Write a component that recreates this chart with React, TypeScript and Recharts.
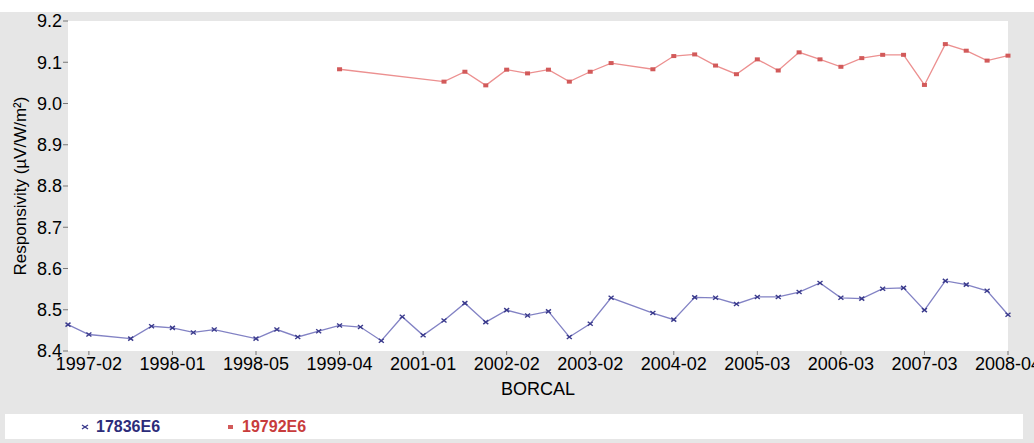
import { LineChart, Line, XAxis, YAxis, CartesianGrid } from "recharts";

// BORCAL dates (categories), one per calibration slot
const borcalDates = [
  "1996-11", "1997-02", "1997-05", "1997-08", "1997-11", "1998-01", "1998-02", "1998-03",
  "1998-04", "1998-05", "1998-07", "1998-09", "1998-12", "1999-04", "1999-08", "2000-01",
  "2000-06", "2001-01", "2001-04", "2001-07", "2001-10", "2002-02", "2002-05", "2002-08",
  "2002-11", "2003-02", "2003-05", "2003-08", "2003-11", "2004-02", "2004-05", "2004-08",
  "2004-11", "2005-03", "2005-06", "2005-09", "2005-12", "2006-03", "2006-06", "2006-09",
  "2006-12", "2007-03", "2007-06", "2007-09", "2007-12", "2008-04",
];

const tickDates = [
  "1997-02", "1998-01", "1998-05", "1999-04", "2001-01", "2002-02",
  "2003-02", "2004-02", "2005-03", "2006-03", "2007-03", "2008-04",
];

const yTicks = [8.4, 8.5, 8.6, 8.7, 8.8, 8.9, 9.0, 9.1, 9.2];

// responsivity, µV/W/m²
const s17836E6 = [
  8.464, 8.440, null, 8.430, 8.460, 8.456, 8.445, 8.452, null, 8.430, 8.452, 8.434,
  8.448, 8.462, 8.458, 8.425, 8.483, 8.438, 8.474, 8.516, 8.470, 8.499, 8.486, 8.496,
  8.434, 8.466, 8.529, null, 8.492, 8.476, 8.530, 8.529, 8.514, 8.531, 8.531, 8.543,
  8.565, 8.529, 8.527, 8.551, 8.553, 8.499, 8.570, 8.561, 8.546, 8.488,
];

const s19792E6 = [
  null, null, null, null, null, null, null, null, null, null, null, null,
  null, 9.083, null, null, null, null, 9.053, 9.077, 9.044, 9.082, 9.073, 9.082,
  9.053, 9.077, 9.098, null, 9.083, 9.115, 9.119, 9.092, 9.071, 9.107, 9.080, 9.124,
  9.107, 9.089, 9.110, 9.118, 9.118, 9.045, 9.144, 9.128, 9.104, 9.116,
];

const data = borcalDates.map((d, i) => ({
  date: d,
  a: s17836E6[i],
  b: s19792E6[i],
}));

const BLUE_LINE = "#8282c4";
const BLUE_MARK = "#3a3a8c";
const RED_LINE = "#ec9090";
const RED_MARK = "#d25a5a";

const crossDot = (props: any) => {
  const { cx, cy, index, value } = props;
  if (value == null || cx == null || cy == null) return <g key={"a" + index} />;
  return (
    <g key={"a" + index}>
      <line x1={cx - 2.5} y1={cy - 2} x2={cx + 2.5} y2={cy + 2} stroke={BLUE_MARK} strokeWidth={1.4} />
      <line x1={cx - 2.5} y1={cy + 2} x2={cx + 2.5} y2={cy - 2} stroke={BLUE_MARK} strokeWidth={1.4} />
    </g>
  );
};

const squareDot = (props: any) => {
  const { cx, cy, index, value } = props;
  if (value == null || cx == null || cy == null) return <g key={"b" + index} />;
  return <rect key={"b" + index} x={cx - 2.5} y={cy - 2} width={5} height={4} fill={RED_MARK} />;
};

const font = "'Liberation Sans', Arial, sans-serif";

export default function App() {
  return (
    <div style={{ position: "absolute", left: 0, top: 0, width: 1034, height: 443, background: "#fff", fontFamily: font }}>
      <div style={{ position: "absolute", left: 0, top: 12, width: 1034, height: 431, background: "#e6e6e6" }} />
      <div style={{ position: "absolute", left: 0, top: 0 }}>
        <LineChart
          width={1034}
          height={443}
          data={data}
          margin={{ top: 21, right: 26, left: 0, bottom: 42 }}
        >
          <CartesianGrid horizontal={false} vertical={false} fill="#ffffff" />
          <XAxis
            dataKey="date"
            ticks={tickDates}
            interval={0}
            height={50}
            axisLine={false}
            tickSize={4}
            tickMargin={2}
            tickLine={{ stroke: "#777" }}
            tick={{ fontSize: 18, fill: "#000", fontFamily: font }}
            label={{
              value: "BORCAL",
              position: "insideBottom",
              offset: 6,
              style: { fontSize: 18, fill: "#000", fontFamily: font },
            }}
          />
          <YAxis
            domain={[8.4, 9.2]}
            ticks={yTicks}
            width={68}
            axisLine={false}
            tickSize={5}
            tickMargin={1}
            tickLine={{ stroke: "#777" }}
            tickFormatter={(v: number) => v.toFixed(1)}
            tick={{ fontSize: 18, fill: "#000", fontFamily: font }}
            label={{
              value: "Responsivity (µV/W/m²)",
              angle: -90,
              position: "insideLeft",
              offset: 20,
              style: { textAnchor: "middle", fontSize: 17, fill: "#000", fontFamily: font },
            }}
          />
          <Line
            type="linear"
            dataKey="a"
            name="17836E6"
            stroke={BLUE_LINE}
            strokeWidth={1.3}
            dot={crossDot}
            activeDot={false}
            connectNulls
            isAnimationActive={false}
          />
          <Line
            type="linear"
            dataKey="b"
            name="19792E6"
            stroke={RED_LINE}
            strokeWidth={1.3}
            dot={squareDot}
            activeDot={false}
            connectNulls
            isAnimationActive={false}
          />
        </LineChart>
      </div>
      <div
        style={{
          position: "absolute",
          left: 5,
          top: 414,
          width: 1018,
          height: 25,
          background: "#fff",
          display: "flex",
          alignItems: "center",
          fontSize: 16,
          fontWeight: "bold",
        }}
      >
        <svg width={10} height={10} style={{ marginLeft: 75 }}>
          <line x1={2} y1={3} x2={8} y2={7} stroke={BLUE_MARK} strokeWidth={1.4} />
          <line x1={2} y1={7} x2={8} y2={3} stroke={BLUE_MARK} strokeWidth={1.4} />
        </svg>
        <span style={{ color: "#2c2c7a", marginLeft: 6 }}>17836E6</span>
        <svg width={10} height={10} style={{ marginLeft: 66 }}>
          <rect x={2} y={3} width={5} height={4} fill={RED_MARK} />
        </svg>
        <span style={{ color: "#c83c3c", marginLeft: 6 }}>19792E6</span>
      </div>
    </div>
  );
}
